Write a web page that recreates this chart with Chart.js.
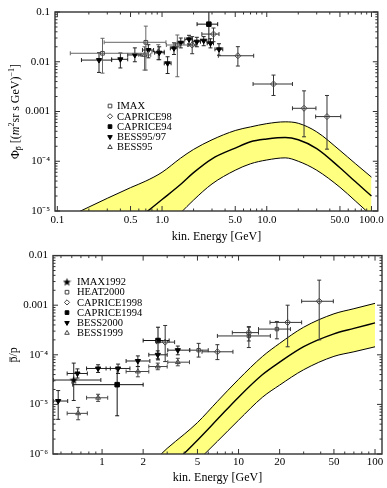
<!DOCTYPE html>
<html>
<head>
<meta charset="utf-8">
<script src="https://cdn.jsdelivr.net/npm/chart.js@4.4.0/dist/chart.umd.min.js"></script>
<style>
html, body { margin: 0; padding: 0; background: #fff; }
.box { position: relative; width: 387px; height: 244px; }
</style>
</head>
<body>
<div class="box"><canvas id="chart1"></canvas></div>
<div class="box"><canvas id="chart2"></canvas></div>
<script>
// ---------- top panel: antiproton flux ----------
var fluxModelE    = [0.12, 0.15, 0.2, 0.3, 0.5, 0.7, 1, 1.5, 2, 3, 5, 7, 10, 15, 20, 30, 50, 70, 100];
var fluxModelHigh = [7.2e-6, 9e-6, 1.2e-5, 1.8e-5, 2.95e-5, 4.0e-5, 6.0e-5, 1.15e-4, 1.73e-4, 2.7e-4, 4.15e-4, 4.9e-4, 5.7e-4, 6.2e-4, 5.8e-4, 3.9e-4, 1.65e-4, 9e-5, 4.8e-5];
var fluxModelMid  = [5e-7, 7.5e-7, 1.2e-6, 2.4e-6, 5.4e-6, 9.3e-6, 1.7e-5, 3.4e-5, 5.9e-5, 1.12e-4, 1.84e-4, 2.47e-4, 2.8e-4, 3.0e-4, 2.7e-4, 1.8e-4, 7.4e-5, 3.9e-5, 2.0e-5];
var fluxModelLow  = [5e-8, 7e-8, 1.3e-7, 3e-7, 9e-7, 1.8e-6, 3.9e-6, 9.1e-6, 1.66e-5, 3.5e-5, 6.6e-5, 8.9e-5, 1.06e-4, 1.17e-4, 1.0e-4, 6.6e-5, 3.0e-5, 1.6e-5, 8.1e-6];

// rows: [E, flux, Emin, Emax, fluxMin, fluxMax]
var imax = [[0.27, 0.0148, 0.133, 0.74, 0.0059, 0.0296], [0.7, 0.0246, 0.28, 1.09, 0.0068, 0.052], [1.4, 0.0217, 1.1, 1.75, 0.005, 0.0345]];
var caprice98 = [[1.94, 0.0217, 1.8, 2.1, 0.0145, 0.032], [3.1, 0.036, 2.4, 3.5, 0.0253, 0.0477], [5.3, 0.0132, 3.45, 7.5, 0.0082, 0.0201],
                 [11.6, 0.00357, 7.4, 17.6, 0.0021, 0.0054], [22.7, 0.00116, 17.6, 29.5, 0.00031, 0.0026], [37.6, 0.00079, 29.3, 50.9, 0.000175, 0.0021]];
var caprice94 = [[2.8, 0.057, 2.16, 3.4, 0.024, 0.13]];
var bess9597 = [[0.25, 0.0108, 0.17, 0.33, 0.0061, 0.0152], [0.4, 0.0112, 0.33, 0.47, 0.0075, 0.015], [0.55, 0.0137, 0.47, 0.63, 0.01, 0.019],
                [0.74, 0.0172, 0.65, 0.83, 0.012, 0.022], [0.94, 0.0152, 0.85, 1.05, 0.011, 0.02], [1.13, 0.0093, 1.05, 1.22, 0.0058, 0.0126],
                [1.3, 0.0186, 1.2, 1.4, 0.014, 0.024], [1.51, 0.0241, 1.4, 1.62, 0.019, 0.03], [1.81, 0.0282, 1.65, 1.95, 0.022, 0.034],
                [2.15, 0.0253, 1.97, 2.33, 0.02, 0.031], [2.5, 0.0265, 2.33, 2.68, 0.021, 0.032], [2.9, 0.0235, 2.7, 3.1, 0.019, 0.029],
                [3.5, 0.0178, 3.2, 3.8, 0.0135, 0.023]];
var bess95 = [[0.68, 0.0137, 0.6, 0.78, 0.0068, 0.02], [0.92, 0.0159, 0.8, 1.05, 0.011, 0.022]];

var topXTicks = [0.1, 0.5, 1, 5, 10, 50, 100];
var topXLabels = ['0.1', '0.5', '1.0', '5.0', '10.0', '50.0', '100.0'];
var topYTicks = [1e-5, 1e-4, 0.001, 0.01, 0.1];
var topYLabels = ['10\u207B\u2075', '10\u207B\u2074', '0.001', '0.01', '0.1'];

// ---------- bottom panel: pbar/p ratio ----------
var ratioModelE    = [2, 3, 4, 5, 7, 10, 15, 20, 30, 50, 70, 100];
var ratioModelHigh = [4.3e-7, 1.3e-6, 2.5e-6, 4.3e-6, 1.15e-5, 3.2e-5, 9.3e-5, 1.7e-4, 3.6e-4, 6.7e-4, 8.5e-4, 1.09e-3];
var ratioModelMid  = [1.5e-7, 4.7e-7, 1.03e-6, 1.9e-6, 5e-6, 1.4e-5, 4e-5, 7.1e-5, 1.46e-4, 2.65e-4, 3.4e-4, 4.4e-4];
var ratioModelLow  = [5.8e-8, 1.8e-7, 3.9e-7, 7.2e-7, 1.8e-6, 4.8e-6, 1.4e-5, 2.45e-5, 5e-5, 9.3e-5, 1.15e-4, 1.45e-4];

var imax92 = [[0.62, 3.1e-5, 0.44, 0.98, 1.2e-5, 6.8e-5]];
var heat00 = [[5.1, 1.24e-4, 4.4, 6.0, 9e-5, 1.7e-4], [11.9, 2.4e-4, 7.0, 17.1, 1.4e-4, 3.6e-4], [19.1, 3.3e-4, 14, 24, 2.1e-4, 4.7e-4]];
var caprice98b = [[2.9, 1.8e-4, 2.5, 3.4, 7.3e-5, 3.9e-4], [7.0, 1.15e-4, 5.4, 9.1, 8e-5, 1.6e-4], [11.9, 2.8e-4, 9.0, 14.0, 1.9e-4, 3.7e-4],
                  [22.9, 4.5e-4, 17, 29, 1.45e-4, 1.0e-3], [39, 1.2e-3, 29, 49.5, 2e-4, 3.2e-3]];
var caprice94b = [[1.29, 2.5e-5, 0.61, 2.0, 5.9e-6, 5.2e-5], [2.57, 1.94e-4, 2.0, 3.1, 7.9e-5, 3.6e-4]];
var bess00 = [[0.477, 1.17e-5, 0.44, 0.56, 5e-6, 1.9e-5], [0.66, 4.2e-5, 0.555, 0.78, 3.4e-5, 5.2e-5], [0.935, 5.3e-5, 0.77, 1.15, 4.4e-5, 6.3e-5],
              [1.31, 5.3e-5, 1.07, 1.6, 4.2e-5, 6.5e-5], [1.83, 7.5e-5, 1.5, 2.24, 5.8e-5, 9.5e-5], [2.56, 1.0e-4, 2.2, 3.0, 8.3e-5, 1.2e-4],
              [3.59, 1.24e-4, 3.03, 4.37, 1.0e-4, 1.5e-4]];
var bess99 = [[0.668, 6.6e-6, 0.555, 0.78, 4.9e-6, 8.7e-6], [0.935, 1.36e-5, 0.77, 1.1, 1.15e-5, 1.6e-5], [1.83, 4.6e-5, 1.5, 2.2, 3.6e-5, 5.8e-5],
              [2.56, 5.8e-5, 2.2, 3.0, 5e-5, 6.8e-5], [3.59, 7.1e-5, 3.03, 4.37, 6e-5, 8.5e-5]];

var botXTicks = [1, 2, 5, 10, 20, 50, 100];
var botXLabels = ['1', '2', '5', '10', '20', '50', '100'];
var botYTicks = [1e-6, 1e-5, 1e-4, 0.001, 0.01];
var botYLabels = ['10\u207B\u2076', '10\u207B\u2075', '10\u207B\u2074', '0.001', '0.01'];

Chart.defaults.font.family = "'Liberation Serif', 'Times New Roman', serif";
Chart.defaults.color = '#000';

var YELLOW = 'rgb(255,255,128)';
var SERIF = "'Liberation Serif', 'Times New Roman', serif";

function starImage() {
    var c = document.createElement('canvas');
    c.width = 9; c.height = 9;
    var g = c.getContext('2d');
    g.beginPath();
    for (var i = 0; i < 10; i++) {
        var r = i % 2 ? 1.8 : 4.4;
        var a = -Math.PI / 2 + i * Math.PI / 5;
        g.lineTo(4.5 + r * Math.cos(a), 4.8 + r * Math.sin(a));
    }
    g.closePath();
    g.fillStyle = '#000';
    g.fill();
    return c;
}

function series(label, rows, style, filled, rot, radius, barColor) {
    return {
        type: 'scatter', label: label, order: 0,
        data: rows.map(function (r) { return {x: r[0], y: r[1]}; }),
        bars: rows, barColor: barColor, filled: filled,
        pointStyle: style, rotation: rot, pointRadius: radius, pointHoverRadius: radius,
        borderWidth: 1, borderColor: filled ? '#000' : '#444',
        backgroundColor: filled ? '#000' : 'rgba(255,255,255,0)'
    };
}

// the filled edge gets a higher order so it is painted first, under the other two lines
function band(xs, ys, fill, width, order) {
    return {
        type: 'line', order: order,
        data: xs.map(function (x, i) { return {x: x, y: ys[i]}; }),
        borderColor: '#000', borderWidth: width, pointRadius: 0,
        cubicInterpolationMode: 'monotone',
        backgroundColor: YELLOW, fill: fill
    };
}

// error bars with small caps, drawn just before each marker set
var errorBars = {
    id: 'errorBars',
    beforeDatasetDraw: function (chart, args) {
        var ds = chart.data.datasets[args.index];
        if (!ds.bars) return;
        var xs = chart.scales.x, ys = chart.scales.y, ctx = chart.ctx, a = chart.chartArea;
        ctx.save();
        ctx.beginPath();
        ctx.rect(a.left, a.top, a.right - a.left, a.bottom - a.top);
        ctx.clip();
        ctx.strokeStyle = ds.barColor;
        ctx.lineWidth = 1;
        ds.bars.forEach(function (r) {
            var px = xs.getPixelForValue(r[0]), py = ys.getPixelForValue(r[1]);
            var x0 = xs.getPixelForValue(r[2]), x1 = xs.getPixelForValue(r[3]);
            var y0 = ys.getPixelForValue(r[4]), y1 = ys.getPixelForValue(r[5]);
            ctx.beginPath();
            ctx.moveTo(x0, py); ctx.lineTo(x1, py);
            ctx.moveTo(x0, py - 2); ctx.lineTo(x0, py + 2);
            ctx.moveTo(x1, py - 2); ctx.lineTo(x1, py + 2);
            ctx.moveTo(px, y0); ctx.lineTo(px, y1);
            ctx.moveTo(px - 2, y0); ctx.lineTo(px + 2, y0);
            ctx.moveTo(px - 2, y1); ctx.lineTo(px + 2, y1);
            ctx.stroke();
        });
        ctx.restore();
    }
};

// box frame with inward log ticks on all four sides
var frame = {
    id: 'frame',
    afterDatasetsDraw: function (chart) {
        var ctx = chart.ctx, a = chart.chartArea;
        ctx.save();
        ctx.strokeStyle = '#333';
        ctx.lineWidth = 1;
        ['x', 'y'].forEach(function (id) {
            var s = chart.scales[id];
            var major = s.ticks.map(function (t) { return t.value; });
            var d0 = Math.floor(Math.log10(s.min)), d1 = Math.ceil(Math.log10(s.max));
            for (var d = d0; d <= d1; d++) {
                for (var m = 1; m <= 9; m++) {
                    var v = m * Math.pow(10, d);
                    if (v < s.min || v > s.max) continue;
                    var isMajor = m === 1 || major.some(function (t) { return Math.abs(t - v) < v * 1e-6; });
                    var len = isMajor ? 5 : 2.5;
                    var p = s.getPixelForValue(v);
                    ctx.beginPath();
                    if (id === 'x') {
                        ctx.moveTo(p, a.bottom); ctx.lineTo(p, a.bottom - len);
                        ctx.moveTo(p, a.top); ctx.lineTo(p, a.top + len);
                    } else {
                        ctx.moveTo(a.left, p); ctx.lineTo(a.left + len, p);
                        ctx.moveTo(a.right, p); ctx.lineTo(a.right - len, p);
                    }
                    ctx.stroke();
                }
            }
        });
        ctx.lineWidth = 1.4;
        ctx.strokeRect(a.left, a.top, a.right - a.left, a.bottom - a.top);
        ctx.restore();
    }
};

function richText(ctx, parts, x, y) {
    var w = 0;
    parts.forEach(function (p) {
        ctx.font = (p.it ? 'italic ' : '') + p.s + 'px ' + SERIF;
        p.w = ctx.measureText(p.t).width;
        w += p.w;
    });
    var cx = x - w / 2;
    ctx.textBaseline = 'middle';
    ctx.textAlign = 'left';
    parts.forEach(function (p) {
        ctx.font = (p.it ? 'italic ' : '') + p.s + 'px ' + SERIF;
        var py = y + (p.dy || 0);
        ctx.fillText(p.t, cx, py);
        if (p.bar) {
            ctx.beginPath();
            ctx.moveTo(cx + 0.5, py - p.s * 0.33);
            ctx.lineTo(cx + p.w - 0.5, py - p.s * 0.33);
            ctx.lineWidth = 0.8;
            ctx.stroke();
        }
        cx += p.w;
    });
}

function annotations(yTitle, yTitlePos, xTitleY, legendPos) {
    return {
        id: 'annotations',
        afterDraw: function (chart) {
            var ctx = chart.ctx, a = chart.chartArea;
            ctx.save();
            ctx.fillStyle = '#000';
            ctx.strokeStyle = '#000';
            richText(ctx, [{t: 'kin. Energy [GeV]', s: 12}], (a.left + a.right) / 2, xTitleY);
            ctx.translate(yTitlePos, (a.top + a.bottom) / 2);
            ctx.rotate(-Math.PI / 2);
            richText(ctx, yTitle, 0, 0);
            ctx.restore();

            // legend inside the plot
            ctx.save();
            var row = 0;
            chart.data.datasets.forEach(function (ds) {
                if (!ds.bars) return;
                var y = legendPos.y + row * legendPos.dy;
                ctx.fillStyle = ds.filled ? '#000' : '#fff';
                ctx.strokeStyle = ds.filled ? '#000' : '#444';
                ctx.lineWidth = 1;
                Chart.helpers.drawPoint(ctx, {pointStyle: ds.pointStyle, rotation: ds.rotation, radius: 2.6, borderWidth: 1}, legendPos.x, y);
                ctx.fillStyle = '#000';
                ctx.font = '10.5px ' + SERIF;
                ctx.textAlign = 'left';
                ctx.textBaseline = 'middle';
                ctx.fillText(ds.label, legendPos.tx, y + 0.5);
                row++;
            });
            ctx.restore();
        }
    };
}

function logAxis(min, max, ticks, labels, fitKey, fitSize, pad) {
    return {
        type: 'logarithmic', min: min, max: max,
        grid: {display: false, drawTicks: false},
        border: {display: false},
        afterBuildTicks: function (s) { s.ticks = ticks.map(function (v) { return {value: v}; }); },
        afterFit: function (s) { s[fitKey] = fitSize; },
        ticks: {
            callback: function (v, i) { return labels[i]; },
            autoSkip: false, maxRotation: 0, padding: pad,
            color: '#000', font: {size: 11}
        }
    };
}

var ctx1 = document.getElementById('chart1').getContext('2d');
var chart1 = new Chart(ctx1, {
    type: 'scatter',
    data: {
        datasets: [
            series('IMAX', imax, 'rect', false, 0, 2.6, '#666'),
            series('CAPRICE98', caprice98, 'rectRot', false, 0, 3, '#333'),
            series('CAPRICE94', caprice94, 'rect', true, 0, 3.2, '#111'),
            series('BESS95/97', bess9597, 'triangle', true, 180, 3, '#222'),
            series('BESS95', bess95, 'triangle', false, 0, 2.8, '#666'),
            band(fluxModelE, fluxModelHigh, '+2', 1, 3),
            band(fluxModelE, fluxModelMid, false, 1.4, 2),
            band(fluxModelE, fluxModelLow, false, 1, 2)
        ]
    },
    options: {
        responsive: true, maintainAspectRatio: false, animation: false,
        devicePixelRatio: 1, events: [],
        layout: {padding: {left: 0, right: 8, top: 12, bottom: 0}},
        plugins: {legend: {display: false}, tooltip: {enabled: false}},
        scales: {
            x: logAxis(0.095, 115, topXTicks, topXLabels, 'height', 33, 3),
            y: logAxis(1e-5, 0.1, topYTicks, topYLabels, 'width', 55, 5)
        }
    },
    plugins: [errorBars, frame, annotations(
        [{t: '\u03A6', s: 12}, {t: 'p', s: 8, dy: 3, bar: true}, {t: ' [(', s: 12}, {t: 'm', s: 12, it: true},
         {t: '2', s: 8, dy: -4}, {t: 'sr s GeV)', s: 12}, {t: '\u22121', s: 8, dy: -4}, {t: ']', s: 12}],
        16, 237, {x: 110, y: 106, dy: 10.3, tx: 117})]
});

var stars = starImage();
var ctx2 = document.getElementById('chart2').getContext('2d');
var chart2 = new Chart(ctx2, {
    type: 'scatter',
    data: {
        datasets: [
            series('IMAX1992', imax92, stars, true, 0, 4, '#222'),
            series('HEAT2000', heat00, 'rect', false, 0, 2.4, '#333'),
            series('CAPRICE1998', caprice98b, 'rectRot', false, 0, 3, '#333'),
            series('CAPRICE1994', caprice94b, 'rect', true, 0, 3.2, '#111'),
            series('BESS2000', bess00, 'triangle', true, 180, 3, '#222'),
            series('BESS1999', bess99, 'triangle', false, 0, 2.8, '#444'),
            band(ratioModelE, ratioModelHigh, '+2', 1, 3),
            band(ratioModelE, ratioModelMid, false, 1.4, 2),
            band(ratioModelE, ratioModelLow, false, 1, 2)
        ]
    },
    options: {
        responsive: true, maintainAspectRatio: false, animation: false,
        devicePixelRatio: 1, events: [],
        layout: {padding: {left: 0, right: 5, top: 8, bottom: 0}},
        plugins: {legend: {display: false}, tooltip: {enabled: false}},
        scales: {
            x: logAxis(0.437, 112.5, botXTicks, botXLabels, 'height', 34, 2),
            y: logAxis(1e-6, 0.01, botYTicks, botYLabels, 'width', 53, 5)
        }
    },
    plugins: [errorBars, frame, annotations(
        [{t: 'p', s: 12, bar: true}, {t: '/p', s: 12}],
        14, 234, {x: 67, y: 38, dy: 10.2, tx: 77})]
});
</script>
</body>
</html>
